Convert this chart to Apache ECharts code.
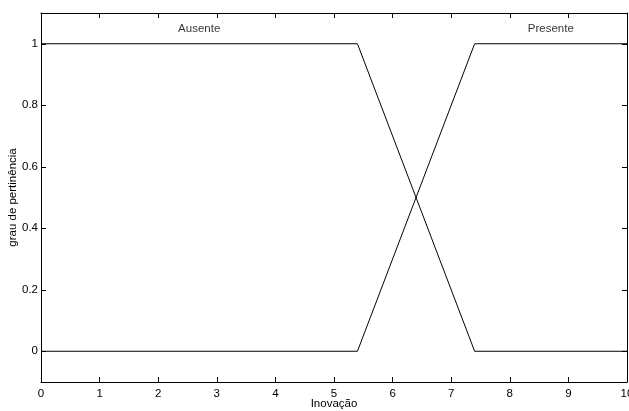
<!DOCTYPE html>
<html>
<head>
<meta charset="utf-8">
<script src="https://cdn.jsdelivr.net/npm/echarts@6/dist/echarts.min.js"></script>
<style>
html,body{margin:0;padding:0;background:#fff;}
#c{width:629px;height:411px;}
</style>
</head>
<body>
<div id="c"></div>
<script>
// Membership functions (trapezoids) sampled at breakpoints
const ausenteX = [0, 5.4, 7.4, 10];
const ausenteY = [1, 1, 0, 0];
const presenteX = [0, 5.4, 7.4, 10];
const presenteY = [0, 0, 1, 1];
const mfNames = ['Ausente', 'Presente'];
const mfLabelX = [2.7, 8.7];
const mfLabelY = [1.05, 1.05];
const xTicks = [0,1,2,3,4,5,6,7,8,9,10];
const yTicks = [0, 0.2, 0.4, 0.6, 0.8, 1];

const font = 'Liberation Sans, Arial, Helvetica, sans-serif';
const fs = 11.5;
const zip = (xs, ys) => xs.map((x, i) => [x, ys[i]]);

const chart = echarts.init(document.getElementById('c'), null, {renderer: 'canvas'});
const axisLine = {show: true, onZero: false, lineStyle: {color: '#000', width: 1}};
const tickStyle = {lineStyle: {color: '#000', width: 1}};
chart.setOption({
  animation: false,
  backgroundColor: '#fff',
  textStyle: {fontFamily: font},
  grid: {left: 41, right: 2, top: 13, bottom: 29, containLabel: false, outerBoundsMode: 'none'},
  xAxis: [{
    type: 'value', min: 0, max: 10, interval: 1, position: 'bottom',
    name: 'Inovação', nameLocation: 'middle', nameGap: 16, nameMoveOverlap: false,
    nameTextStyle: {color: '#000', fontSize: fs, fontFamily: font},
    axisLine: axisLine,
    axisTick: Object.assign({show: true, inside: true, length: 5}, tickStyle),
    axisLabel: {color: '#000', fontSize: fs, fontFamily: font, margin: 6, showMaxLabel: true, showMinLabel: true},
    splitLine: {show: false}
  }, {
    type: 'value', min: 0, max: 10, interval: 1, position: 'top',
    axisLine: axisLine,
    axisTick: Object.assign({show: true, inside: true, length: 5}, tickStyle),
    axisLabel: {show: false},
    splitLine: {show: false}
  }],
  yAxis: [{
    type: 'value', min: -0.1, max: 1.1, position: 'left',
    name: 'grau de pertinência', nameLocation: 'middle', nameGap: 22, nameRotate: 90, nameMoveOverlap: false,
    nameTextStyle: {color: '#000', fontSize: fs, fontFamily: font},
    axisLine: axisLine,
    axisTick: Object.assign({show: true, inside: true, length: 5, customValues: yTicks}, tickStyle),
    axisLabel: {color: '#000', fontSize: fs, fontFamily: font, margin: 3, customValues: yTicks,
      formatter: v => String(Math.round(v * 10) / 10)},
    splitLine: {show: false}
  }, {
    type: 'value', min: -0.1, max: 1.1, position: 'right',
    axisLine: axisLine,
    axisTick: Object.assign({show: true, inside: true, length: 5, customValues: yTicks}, tickStyle),
    axisLabel: {show: false},
    splitLine: {show: false}
  }],
  series: [{
    type: 'line', name: mfNames[0], data: zip(ausenteX, ausenteY),
    showSymbol: false, symbol: 'none', lineStyle: {color: '#000', width: 1}, z: 3
  }, {
    type: 'line', name: mfNames[1], data: zip(presenteX, presenteY),
    showSymbol: false, symbol: 'none', lineStyle: {color: '#000', width: 1}, z: 3
  }, {
    type: 'scatter', symbolSize: 0, silent: true,
    data: mfNames.map((n, i) => ({value: [mfLabelX[i], mfLabelY[i]], name: n})),
    label: {show: true, position: 'inside', formatter: p => p.name, color: '#000', fontSize: fs, fontFamily: font}
  }]
});
</script>
</body>
</html>
